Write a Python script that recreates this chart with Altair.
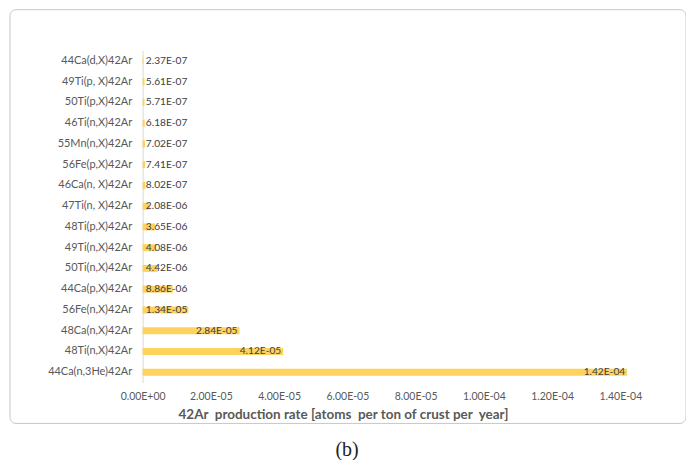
import altair as alt
import pandas as pd

reactions = [
    "44Ca(d,X)42Ar", "49Ti(p, X)42Ar", "50Ti(p,X)42Ar", "46Ti(n,X)42Ar",
    "55Mn(n,X)42Ar", "56Fe(p,X)42Ar", "46Ca(n, X)42Ar", "47Ti(n, X)42Ar\u00a0",
    "48Ti(p,X)42Ar", "49Ti(n,X)42Ar", "50Ti(n,X)42Ar", "44Ca(p,X)42Ar",
    "56Fe(n,X)42Ar", "48Ca(n,X)42Ar", "48Ti(n,X)42Ar", "44Ca(n,3He)42Ar\u00a0",
]
rates = [
    2.37e-7, 5.61e-7, 5.71e-7, 6.18e-7,
    7.02e-7, 7.41e-7, 8.02e-7, 2.08e-6,
    3.65e-6, 4.08e-6, 4.42e-6, 8.86e-6,
    1.34e-5, 2.84e-5, 4.12e-5, 1.42e-4,
]
tick_values = [0, 2e-5, 4e-5, 6e-5, 8e-5, 1e-4, 1.2e-4, 1.4e-4]

df = pd.DataFrame({
    "reaction": reactions,
    "rate": rates,
    "label": [f"{v:.2E}" for v in rates],
})

BAR = "#FDD35E"
GREY = "#595959"
FONT = "Lato"

y_enc = alt.Y(
    "reaction:N", sort=reactions, title=None,
    scale=alt.Scale(paddingInner=0, paddingOuter=0),
    axis=alt.Axis(ticks=False, tickSize=0, labelPadding=11, labelColor=GREY,
                  labelFont=FONT, labelFontSize=11, domainColor="#D9D9D9",
                  labelLimit=300),
)
x_scale = alt.Scale(domain=[0, 1.42e-4], nice=False)
x_axis = alt.Axis(
    values=tick_values, grid=False, domain=False, ticks=False, tickSize=0,
    labelExpr="substring(upper(format(datum.value, '.2e')), 0, 6) + '0' + substring(upper(format(datum.value, '.2e')), 6)",
    labelFlush=False, labelPadding=9, labelColor=GREY, labelFont=FONT,
    labelFontSize=10.5,
    title="42Ar\u00a0 production rate [atoms\u00a0 per ton of crust per\u00a0 year]",
    titleFont=FONT, titleFontSize=13.5, titleFontWeight="bold", titleColor=GREY,
    titleX=201, titleY=32, titleBaseline="middle", titleAlign="center",
)

bars = alt.Chart(df).mark_bar(size=7, color=BAR).encode(
    x=alt.X("rate:Q", scale=x_scale, axis=x_axis),
    y=y_enc,
)

labels = alt.Chart(df).transform_calculate(
    pos="max(datum.rate, 1.37e-5)"
).mark_text(align="right", dx=-2, font=FONT, fontSize=10.2, color="#404040").encode(
    x=alt.X("pos:Q", scale=x_scale),
    y=alt.Y("reaction:N", sort=reactions),
    text="label:N",
)

frame = alt.Chart(alt.Data(values=[{}])).mark_rect(
    fillOpacity=0, stroke="#C8C8C8", strokeWidth=1, cornerRadius=6
).encode(
    x=alt.value(-133), x2=alt.value(545), y=alt.value(-41), y2=alt.value(374),
)

caption = alt.Chart(alt.Data(values=[{}])).mark_text(
    text="(b)", font="Liberation Serif", fontSize=20, color="#222222",
    baseline="middle", align="center",
).encode(x=alt.value(205), y=alt.value(401))

chart = alt.layer(frame, bars, labels, caption).properties(
    width=486, height=333,
    background="white",
    autosize=alt.AutoSizeParams(type="none"),
    padding={"left": 135, "top": 42, "right": 59, "bottom": 77},
).configure_view(strokeWidth=0, stroke="transparent")

chart.save("out.html", embed_options={"renderer": "svg", "actions": False})
